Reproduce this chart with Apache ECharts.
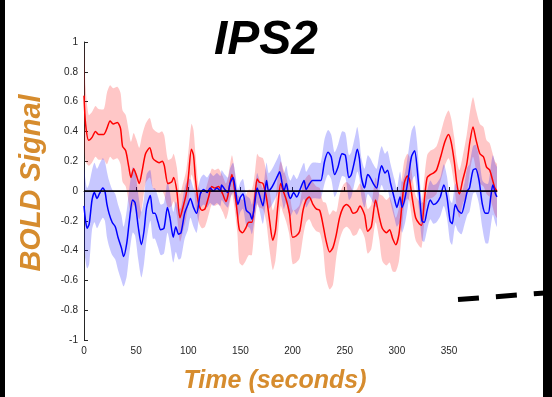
<!DOCTYPE html>
<html>
<head>
<meta charset="utf-8">
<script src="https://cdn.jsdelivr.net/npm/echarts@6/dist/echarts.min.js"></script>
<style>html,body{margin:0;padding:0;background:#fff;}#c{width:552px;height:397px;}</style>
</head>
<body>
<div id="c"></div>
<script>
// ---- data ----
var titleText = 'IPS2';
var yLabel = 'BOLD Signal';
var xLabel = 'Time (seconds)';
var xTicks = [0, 50, 100, 150, 200, 250, 300, 350];

var redT = [0,1.5,4.5,7.7,11,14,19,22,25,28,32,35,37,40,43,45,47.6,50,53,55.6,59,63,66,69,72,75,77,80.5,84,86,89,92,94.5,98,100,103,105,107,110,113,116,119.5,122.5,125.5,129,133,136,138,141.8,144,147,149,152,155,158,161,163.6,166,168,171.6,174.8,178,181,183.5,186,188.6,191,194,197,200,203.6,206.8,210,213,216,219.5,222.7,226,229,232,235.5,238.7,242,245,248.5,251.7,255,258,261.5,264.6,269,272,275.5,279.6,283,286,290,293,296,299,302,304.6,307,310,312,315,318,321.5,323.7,326.5,329,332,335,338,342,346,349.5,352,355,357.5,360,363,367,370,373,376,379.6,383,386,389,391.5,394,396];
var redMean = [0.64,0.45,0.34,0.36,0.40,0.38,0.38,0.42,0.47,0.45,0.46,0.42,0.30,0.27,0.16,0.09,0.15,0.11,0.05,0.13,0.25,0.29,0.22,0.20,0.19,0.20,0.17,0.05,0.06,0.09,0.00,-0.18,-0.12,-0.02,0.09,0.28,0.24,0.07,-0.09,-0.13,-0.12,-0.04,0.03,0.02,0.03,-0.02,-0.07,-0.03,0.11,0.03,-0.15,-0.26,-0.28,-0.25,-0.21,-0.21,-0.06,0.08,0.06,0.05,-0.04,-0.20,-0.33,-0.27,-0.09,0.05,0.00,-0.06,-0.15,-0.31,-0.30,-0.27,-0.13,-0.06,-0.04,-0.09,-0.12,-0.13,-0.22,-0.33,-0.41,-0.38,-0.29,-0.18,-0.11,-0.09,-0.11,-0.15,-0.14,-0.10,-0.16,-0.27,-0.24,-0.06,-0.17,-0.25,-0.28,-0.26,-0.32,-0.36,-0.29,-0.11,0.05,0.10,0.08,-0.06,-0.18,-0.22,-0.23,-0.05,0.09,0.11,0.12,0.14,0.23,0.33,0.38,0.33,0.20,0.05,-0.02,0.07,0.18,0.33,0.43,0.34,0.25,0.23,0.16,0.14,0.08,0.02,0.00];
var redErr = [0.33,0.25,0.17,0.17,0.17,0.17,0.17,0.24,0.24,0.24,0.24,0.24,0.24,0.24,0.24,0.24,0.24,0.24,0.24,0.24,0.2,0.2,0.2,0.2,0.2,0.2,0.2,0.16,0.16,0.16,0.16,0.16,0.16,0.16,0.17,0.17,0.17,0.17,0.12,0.12,0.12,0.12,0.12,0.12,0.12,0.12,0.12,0.12,0.13,0.13,0.13,0.22,0.22,0.22,0.22,0.22,0.17,0.17,0.17,0.17,0.17,0.2,0.2,0.2,0.2,0.15,0.15,0.15,0.15,0.18,0.18,0.18,0.18,0.15,0.15,0.15,0.15,0.15,0.15,0.25,0.25,0.25,0.15,0.15,0.15,0.15,0.15,0.15,0.15,0.15,0.15,0.15,0.15,0.15,0.15,0.22,0.22,0.22,0.22,0.18,0.18,0.18,0.15,0.15,0.15,0.15,0.15,0.15,0.15,0.15,0.15,0.16,0.16,0.16,0.16,0.16,0.16,0.16,0.16,0.16,0.16,0.16,0.2,0.2,0.2,0.2,0.2,0.2,0.18,0.18,0.18,0.18,0.18,0.18];

var blueT = [0,1.5,3,5,7.7,10,12.5,14.7,18,20,22,24,27,30,32.6,35.8,38,41,43.5,46.6,49,52,55,57.5,60,63.6,66,68,71,73.5,76.7,80,82.4,85.6,88,90.7,93,96.5,99.7,102,105,108,111.5,114.7,118,121,124,127.5,130.7,132,135,138,140,143,145,147.6,150,152.5,155.6,159,161,163.6,166,168,171.6,175,177,179.6,182,185.5,187.6,190,191.7,194,196,198,201,204,207.7,211,213,216.4,219,224,227,230.7,234,237,240.3,243.5,247.4,250.6,254,256.3,260,262,264,266,269,272,274.5,277.4,280.6,283,285.4,288.6,291,294,297.6,300,303,305,308,311,314,317,319.3,321.6,324,326.3,329,332,335,338,341.6,345,348,351,353,356,358.6,362,365,367.6,369.6,373,375.6,378.8,382,385,387.6,390,392,394.6,396];
var blueMean = [-0.10,-0.20,-0.25,-0.22,-0.06,-0.01,-0.05,-0.02,0.02,0.00,-0.09,-0.15,-0.21,-0.24,-0.31,-0.38,-0.44,-0.35,-0.20,-0.06,-0.08,-0.24,-0.36,-0.27,-0.11,-0.03,-0.15,-0.15,-0.21,-0.26,-0.25,-0.11,-0.18,-0.31,-0.24,-0.29,-0.28,-0.15,-0.09,-0.05,-0.11,-0.15,-0.02,0.01,-0.01,0.02,0.00,0.02,0.00,0.04,0.01,-0.01,0.05,0.09,0.02,-0.09,-0.04,-0.02,-0.13,-0.15,-0.19,-0.09,0.02,-0.02,-0.10,0.07,0.00,0.02,0.05,0.10,0.13,0.05,0.00,0.05,-0.02,-0.05,-0.01,-0.04,0.02,0.07,0.01,0.05,0.07,0.07,0.07,0.20,0.26,0.23,0.11,0.16,0.25,0.24,0.09,0.11,0.22,0.28,0.22,0.09,0.02,0.11,0.09,0.05,0.02,0.11,0.17,0.12,0.14,0.05,-0.05,-0.11,-0.04,-0.11,-0.04,0.09,0.23,0.27,0.16,-0.02,-0.20,-0.21,-0.13,-0.06,-0.09,-0.08,-0.04,0.04,-0.04,-0.20,-0.22,-0.09,-0.13,-0.15,-0.08,0.00,0.02,0.14,0.15,0.07,-0.09,-0.15,-0.15,-0.04,0.04,-0.02,-0.04];
var blueErr = [0.27,0.27,0.27,0.27,0.2,0.2,0.2,0.2,0.2,0.2,0.22,0.22,0.22,0.22,0.22,0.22,0.2,0.22,0.22,0.22,0.22,0.22,0.22,0.22,0.22,0.17,0.17,0.17,0.17,0.17,0.17,0.17,0.17,0.17,0.17,0.17,0.17,0.17,0.17,0.13,0.13,0.13,0.1,0.1,0.1,0.1,0.1,0.1,0.1,0.1,0.1,0.1,0.1,0.1,0.1,0.1,0.1,0.1,0.1,0.1,0.1,0.1,0.1,0.1,0.12,0.12,0.12,0.12,0.12,0.12,0.12,0.12,0.12,0.12,0.12,0.12,0.12,0.12,0.12,0.12,0.12,0.12,0.12,0.12,0.12,0.15,0.15,0.15,0.15,0.15,0.15,0.15,0.15,0.15,0.15,0.15,0.13,0.13,0.13,0.13,0.13,0.13,0.13,0.13,0.13,0.13,0.13,0.13,0.13,0.13,0.17,0.17,0.17,0.17,0.17,0.17,0.17,0.13,0.13,0.13,0.13,0.13,0.13,0.13,0.13,0.14,0.14,0.14,0.14,0.14,0.14,0.14,0.14,0.16,0.16,0.16,0.16,0.16,0.16,0.2,0.2,0.2,0.2,0.2,0.2,0.2];

// ---- chart ----
function pairs(ts, vs) { return ts.map(function (t, i) { return [t, vs[i]]; }); }
function band(ts, mean, err, fill) {
  return {
    type: 'custom', silent: true, clip: true, z: 1,
    data: [[ts[0], mean[0]]],
    encode: { x: 0, y: 1 },
    renderItem: function (params, api) {
      var up = [], lo = [];
      for (var i = 0; i < ts.length; i++) {
        up.push(api.coord([ts[i], mean[i] + err[i]]));
        lo.push(api.coord([ts[i], mean[i] - err[i]]));
      }
      return { type: 'polygon', shape: { points: up.concat(lo.reverse()), smooth: 0.25 }, style: { fill: fill } };
    }
  };
}
var FONT = 'Liberation Sans, Arial, Helvetica, sans-serif';
var ORANGE = '#D68C2E';
var chart = echarts.init(document.getElementById('c'), null, { renderer: 'canvas' });
chart.setOption({
  animation: false,
  backgroundColor: '#fff',
  grid: { left: 84, right: 55, top: 42, bottom: 57, containLabel: false },
  xAxis: {
    type: 'value', min: 0, max: 396, interval: 50,
    splitLine: { show: false },
    axisLine: { lineStyle: { color: '#262626', width: 1 } },
    axisTick: { inside: true, length: 4, customValues: xTicks, lineStyle: { color: '#262626' } },
    axisLabel: { customValues: xTicks, color: '#262626', fontSize: 10, fontFamily: FONT, margin: 6 }
  },
  yAxis: {
    type: 'value', min: -1, max: 1, interval: 0.2,
    splitLine: { show: false },
    axisLine: { show: true, lineStyle: { color: '#262626', width: 1 } },
    axisTick: { show: true, inside: true, length: 4, lineStyle: { color: '#262626' } },
    axisLabel: { color: '#262626', fontSize: 10, fontFamily: FONT, margin: 6,
      formatter: function (v) { return String(Math.round(v * 10) / 10); } }
  },
  series: [
    band(redT, redMean, redErr, 'rgba(255,0,0,0.22)'),
    band(blueT, blueMean, blueErr, 'rgba(0,0,255,0.22)'),
    { type: 'line', data: pairs(redT, redMean), showSymbol: false, smooth: 0.25, z: 3,
      lineStyle: { color: '#ff0000', width: 1.5 } },
    { type: 'line', data: pairs(blueT, blueMean), showSymbol: false, smooth: 0.25, z: 4,
      lineStyle: { color: '#0000ff', width: 1.5 },
      markLine: { silent: true, symbol: 'none', label: { show: false },
        lineStyle: { color: '#000', width: 1.5, type: 'solid' }, data: [{ yAxis: 0 }] } }
  ],
  graphic: [
    { type: 'rect', shape: { x: 0, y: 0, width: 5, height: 397 }, style: { fill: '#000' }, z: 100 },
    { type: 'rect', shape: { x: 543, y: 0, width: 9, height: 397 }, style: { fill: '#000' }, z: 100 },
    { type: 'line', shape: { x1: 458, y1: 299.5, x2: 545, y2: 293 }, style: { stroke: '#000', lineWidth: 5, lineDash: [21, 17] }, z: 99 },
    { type: 'text', x: 266, y: 41, style: { text: titleText, font: 'italic bold 48px ' + FONT, fill: '#000', textAlign: 'center', textVerticalAlign: 'middle' }, z: 50 },
    { type: 'text', x: 32, y: 183, rotation: Math.PI / 2, style: { text: yLabel, font: 'italic bold 29px ' + FONT, fill: ORANGE, textAlign: 'center', textVerticalAlign: 'middle' }, z: 50 },
    { type: 'text', x: 275, y: 381, style: { text: xLabel, font: 'italic bold 25px ' + FONT, fill: ORANGE, textAlign: 'center', textVerticalAlign: 'middle' }, z: 50 }
  ]
});
</script>
</body>
</html>
